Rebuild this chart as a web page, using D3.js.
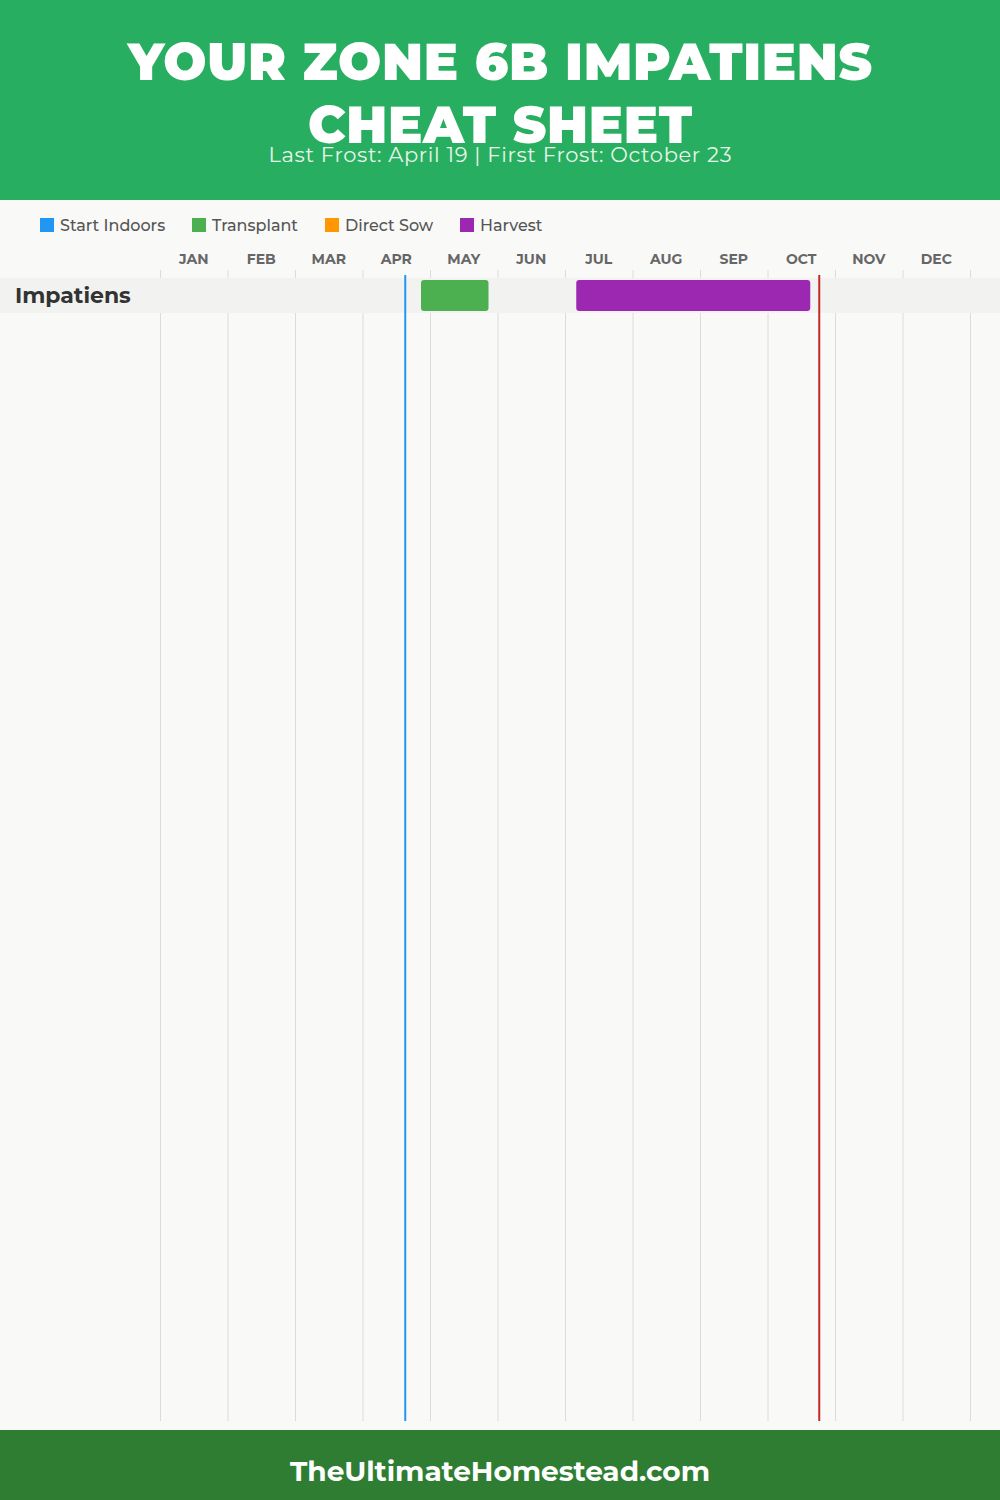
<!DOCTYPE html>
<html>
<head>
<meta charset="utf-8">
<script src="https://cdn.jsdelivr.net/npm/d3@7"></script>
<style>
  html, body { margin: 0; padding: 0; background: #f9f9f8; }
  svg { display: block; }
</style>
</head>
<body>
<script>
// ---- data ----
const months = ["JAN","FEB","MAR","APR","MAY","JUN","JUL","AUG","SEP","OCT","NOV","DEC"];
const legendLabels = ["Start Indoors","Transplant","Direct Sow","Harvest"];
const legendColors = ["#2196f3","#4caf50","#ff9800","#9c27b0"];
const crops = ["Impatiens"];
// [crop, activity, startMonth(1-12), startDay, endMonth, endDay]
const transplantWindow = ["Impatiens","Transplant",4,26,5,26];
const harvestWindow = ["Impatiens","Harvest",7,5,10,19];
const lastFrost = [4,19];
const firstFrost = [10,23];
const titleLines = ["YOUR ZONE 6B IMPATIENS","CHEAT SHEET"];
const subtitle = "Last Frost: April 19 | First Frost: October 23";
const footerText = "TheUltimateHomestead.com";

const W = 1000, H = 1500;
const svg = d3.select("body").append("svg").attr("width", W).attr("height", H);
const font = "Montserrat, Inter, 'Open Sans', sans-serif";

// background
svg.append("rect").attr("width", W).attr("height", H).attr("fill", "#f9f9f8");

// header
svg.append("rect").attr("x",0).attr("y",0).attr("width",W).attr("height",200).attr("fill","#27ae60");
svg.selectAll("text.title").data(titleLines).enter().append("text")
  .attr("class","title")
  .attr("x", 500).attr("y", (d,i) => 80 + i*63)
  .attr("text-anchor","middle")
  .attr("font-family", font).attr("font-weight", 900).attr("font-size", 51)
  .attr("fill","#ffffff")
  .attr("textLength", (d,i) => i === 0 ? 744 : 384)
  .attr("lengthAdjust","spacing")
  .text(d => d);
svg.append("text").attr("x",500).attr("y",162).attr("text-anchor","middle")
  .attr("font-family", font).attr("font-size", 21).attr("fill","#e8f5e9")
  .attr("textLength", 463).attr("lengthAdjust","spacing")
  .text(subtitle);

// scales
const x = d3.scaleLinear().domain([0,12]).range([160,970]);
const pos = (m,d) => x((m-1) + d/30);
const y = d3.scaleBand().domain(crops).range([278, 278 + 35*crops.length]);

// legend
const legendX = [40,192,325,460];
const lg = svg.selectAll("g.legend").data(legendLabels).enter().append("g")
  .attr("transform",(d,i)=>`translate(${legendX[i]},218)`);
lg.append("rect").attr("width",14).attr("height",14).attr("fill",(d,i)=>legendColors[i]);
lg.append("text").attr("x",20).attr("y",12.5).attr("font-family",font).attr("font-size",16)
  .attr("font-weight",500).attr("fill","#555").text(d=>d);

// gridlines
svg.selectAll("line.grid").data(d3.range(13)).enter().append("line")
  .attr("x1",d=>x(d)+0.5).attr("x2",d=>x(d)+0.5)
  .attr("y1",270).attr("y2",1421)
  .attr("stroke","#dcdcdc").attr("stroke-width",1);

// month labels
svg.selectAll("text.month").data(months).enter().append("text")
  .attr("x",(d,i)=>x(i+0.5)).attr("y",264).attr("text-anchor","middle")
  .attr("font-family",font).attr("font-weight",700).attr("font-size",14)
  .attr("fill","#666").text(d=>d);

// row bands
svg.selectAll("rect.band").data(crops).enter().append("rect")
  .attr("x",0).attr("width",W).attr("y",d=>y(d)).attr("height",y.bandwidth())
  .attr("fill","#f2f2f1");
svg.selectAll("text.crop").data(crops).enter().append("text")
  .attr("x",15).attr("y",d=>y(d)+y.bandwidth()/2+7)
  .attr("font-family",font).attr("font-weight",700).attr("font-size",22)
  .attr("fill","#333").text(d=>d);

// bars
const windows = [transplantWindow, harvestWindow];
svg.selectAll("rect.bar").data(windows).enter().append("rect")
  .attr("x",d=>pos(d[2],d[3])).attr("width",d=>pos(d[4],d[5])-pos(d[2],d[3]))
  .attr("y",d=>y(d[0])+2).attr("height",y.bandwidth()-4)
  .attr("rx",3).attr("ry",3)
  .attr("fill",d=>legendColors[legendLabels.indexOf(d[1])]);

// frost lines
svg.append("line").attr("x1",pos(...lastFrost)).attr("x2",pos(...lastFrost))
  .attr("y1",275).attr("y2",1421).attr("stroke","#2196f3").attr("stroke-width",2);
svg.append("line").attr("x1",pos(...firstFrost)).attr("x2",pos(...firstFrost))
  .attr("y1",275).attr("y2",1421).attr("stroke","#c62828").attr("stroke-width",2);

// footer
svg.append("rect").attr("x",0).attr("y",1430).attr("width",W).attr("height",70).attr("fill","#2e7d32");
svg.append("text").attr("x",500).attr("y",1481).attr("text-anchor","middle")
  .attr("font-family",font).attr("font-weight",700).attr("font-size",28)
  .attr("fill","#ffffff").attr("textLength",420).attr("lengthAdjust","spacing")
  .text(footerText);
</script>
</body>
</html>
